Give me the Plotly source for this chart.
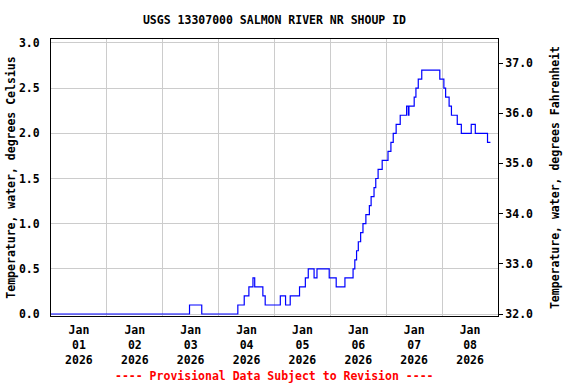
import plotly.graph_objects as go

change_times = [
    "2026-01-01 00:00", "2026-01-03 11:30", "2026-01-03 16:45", "2026-01-04 08:15",
    "2026-01-04 11:00", "2026-01-04 13:00", "2026-01-04 14:45", "2026-01-04 15:30",
    "2026-01-04 19:00", "2026-01-04 20:00", "2026-01-05 02:30", "2026-01-05 04:45",
    "2026-01-05 06:45", "2026-01-05 10:45", "2026-01-05 13:15", "2026-01-05 14:30",
    "2026-01-05 17:00", "2026-01-05 18:15", "2026-01-05 23:30", "2026-01-06 02:30",
    "2026-01-06 06:15", "2026-01-06 09:45", "2026-01-06 10:30", "2026-01-06 11:15",
    "2026-01-06 12:00", "2026-01-06 13:00", "2026-01-06 14:00", "2026-01-06 15:15",
    "2026-01-06 16:45", "2026-01-06 17:30", "2026-01-06 18:45", "2026-01-06 19:30",
    "2026-01-06 20:30", "2026-01-06 22:15", "2026-01-07 00:45", "2026-01-07 02:00",
    "2026-01-07 03:00", "2026-01-07 04:15", "2026-01-07 06:00", "2026-01-07 08:45",
    "2026-01-07 09:30", "2026-01-07 09:45", "2026-01-07 12:00", "2026-01-07 12:45",
    "2026-01-07 13:45", "2026-01-07 15:15", "2026-01-07 23:00", "2026-01-08 00:45",
    "2026-01-08 01:30", "2026-01-08 03:00", "2026-01-08 04:00", "2026-01-08 06:30",
    "2026-01-08 08:15", "2026-01-08 12:30", "2026-01-08 14:15", "2026-01-08 19:30",
    "2026-01-08 20:45",
]
temp_c = [
    0.0, 0.1, 0.0, 0.1,
    0.2, 0.3, 0.4, 0.3,
    0.2, 0.1, 0.2, 0.1,
    0.2, 0.3, 0.4, 0.5,
    0.4, 0.5, 0.4, 0.3,
    0.4, 0.5, 0.6, 0.7,
    0.8, 0.9, 1.0, 1.1,
    1.2, 1.3, 1.4, 1.5,
    1.6, 1.7, 1.8, 1.9,
    2.0, 2.1, 2.2, 2.3,
    2.2, 2.3, 2.4, 2.5,
    2.6, 2.7, 2.6, 2.5,
    2.4, 2.3, 2.2, 2.1,
    2.0, 2.1, 2.0, 1.9,
    1.9,
]

title_text = "USGS 13307000 SALMON RIVER NR SHOUP ID"
left_title = "Temperature, water, degrees Celsius"
right_title = "Temperature, water, degrees Fahrenheit"
footer_text = "---- Provisional Data Subject to Revision ----"

x_range = ["2026-01-01 00:00", "2026-01-09 00:00"]
c_range = [-0.022, 3.044]
f_range = [32 + 1.8 * c_range[0], 32 + 1.8 * c_range[1]]

FONT = "DejaVu Sans Mono"
FS = 11.5

fig = go.Figure()
fig.add_trace(go.Scatter(
    x=change_times, y=temp_c, mode="lines", line=dict(color="#0000ff", width=1.2, shape="hv"),
    showlegend=False, hoverinfo="skip"))
fig.add_trace(go.Scatter(
    x=[change_times[0]], y=[32], yaxis="y2", mode="lines", line=dict(width=0),
    showlegend=False, hoverinfo="skip"))

fig.update_layout(
    width=576, height=384,
    margin=dict(l=51, r=78, t=39, b=68, autoexpand=False),
    paper_bgcolor="white", plot_bgcolor="white",
    font=dict(family=FONT, size=FS, color="black", weight="bold"),
    title=dict(text=title_text, xref="paper", x=0.5, xanchor="center",
               yref="container", y=1 - 20 / 384, yanchor="middle",
               font=dict(family=FONT, size=FS, weight="bold")),
    xaxis=dict(
        type="date", range=x_range, tick0="2026-01-01", dtick=86400000,
        ticklabelmode="period", tickformat="%b<br>%d<br>%Y",
        showgrid=True, gridcolor="#cccccc", gridwidth=1,
        showline=True, linecolor="black", linewidth=1, mirror=True,
        ticks="", zeroline=False, automargin=False, ticklabelstandoff=3,
        tickfont=dict(family=FONT, size=FS, weight="bold"),
    ),
    yaxis=dict(
        range=c_range, dtick=0.5, tick0=0, tickformat=".1f",
        showgrid=True, gridcolor="#cccccc", gridwidth=1,
        showline=True, linecolor="black", linewidth=1,
        ticks="", zeroline=False, ticklabelstandoff=8, automargin=False,
        title=dict(text=left_title, standoff=0, font=dict(family=FONT, size=FS, weight="bold")),
        tickfont=dict(family=FONT, size=FS, weight="bold"),
    ),
    yaxis2=dict(
        overlaying="y", side="right", range=f_range, dtick=1, tick0=32, tickformat=".1f",
        showgrid=False, showline=True, linecolor="black", linewidth=1,
        ticks="outside", ticklen=4, tickcolor="black", zeroline=False, automargin=False,
        title=dict(text=right_title, standoff=18, font=dict(family=FONT, size=FS, weight="bold")),
        tickfont=dict(family=FONT, size=FS, weight="bold"),
    ),
    annotations=[dict(
        text=footer_text, xref="paper", yref="paper", x=0.5, y=-0.217,
        xanchor="center", yanchor="middle", showarrow=False,
        font=dict(family=FONT, size=FS, color="#ff0000", weight="bold"))],
)

fig.write_html("out.html", config={"displayModeBar": False},
               post_script="document.body.style.margin='0';document.body.style.overflow='hidden';")
